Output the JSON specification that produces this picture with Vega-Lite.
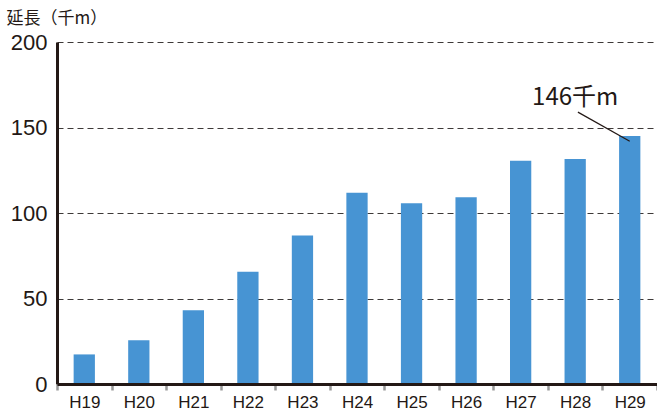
{
  "$schema": "https://vega.github.io/schema/vega-lite/v6.json",
  "width": 600,
  "height": 342,
  "autosize": {"type": "none"},
  "padding": {"left": 57, "top": 42, "right": 0, "bottom": 27},
  "background": "white",
  "config": {"view": {"stroke": null}},
  "datasets": {
    "bars": [
      {"year": "H19", "value": 17.3},
      {"year": "H20", "value": 25.6},
      {"year": "H21", "value": 43.2},
      {"year": "H22", "value": 65.6},
      {"year": "H23", "value": 86.8},
      {"year": "H24", "value": 111.8},
      {"year": "H25", "value": 105.7},
      {"year": "H26", "value": 109.2},
      {"year": "H27", "value": 130.5},
      {"year": "H28", "value": 131.6},
      {"year": "H29", "value": 145.0}
    ]
  },
  "layer": [
    {
      "data": {"name": "bars"},
      "mark": {"type": "bar", "width": {"band": 0.39}, "color": "#4794d3"},
      "encoding": {
        "x": {
          "field": "year", "type": "nominal", "sort": null,
          "scale": {"paddingInner": 0, "paddingOuter": 0},
          "axis": {
            "title": null, "labelAngle": 0,
            "labelFont": "Liberation Sans", "labelFontSize": 17, "labelColor": "#231815",
            "labelPadding": 4,
            "domainColor": "#231815", "domainWidth": 3,
            "tickBand": "extent", "tickColor": "#9a9a9a", "tickWidth": 2.5, "tickSize": 6,
            "zindex": 1
          }
        },
        "y": {
          "field": "value", "type": "quantitative",
          "scale": {"domain": [0, 200], "nice": false},
          "axis": {
            "values": [0, 50, 100, 150, 200],
            "title": "延長（千m）",
            "titleFont": "Noto Sans CJK JP", "titleFontSize": 17, "titleFontWeight": "normal",
            "titleColor": "#231815", "titleAngle": 0, "titleAlign": "left", "titleBaseline": "middle",
            "titleX": -51, "titleY": -24,
            "labelFont": "Liberation Sans", "labelFontSize": 22, "labelColor": "#231815",
            "labelPadding": 10, "ticks": false,
            "domainColor": "#231815", "domainWidth": 3,
            "grid": true, "gridColor": "#3e3a39", "gridDash": [6, 4], "gridWidth": 1.1
          }
        }
      }
    },
    {
      "data": {"values": [{"year": "H28", "value": 167, "label": "146千m"}]},
      "mark": {"type": "text", "font": "Noto Sans CJK JP", "fontSize": 24, "fontWeight": "normal", "color": "#231815", "baseline": "middle", "align": "center"},
      "encoding": {
        "x": {"field": "year", "type": "nominal", "sort": null},
        "y": {"field": "value", "type": "quantitative"},
        "text": {"field": "label"}
      }
    },
    {
      "data": {"values": [{"from": "H28", "to": "H29", "v1": 159, "v2": 142}]},
      "mark": {"type": "rule", "color": "#231815", "strokeWidth": 1.2},
      "encoding": {
        "x": {"field": "from", "type": "nominal", "sort": null, "bandPosition": 0.55},
        "x2": {"field": "to"},
        "y": {"field": "v1", "type": "quantitative"},
        "y2": {"field": "v2"}
      }
    }
  ]
}
